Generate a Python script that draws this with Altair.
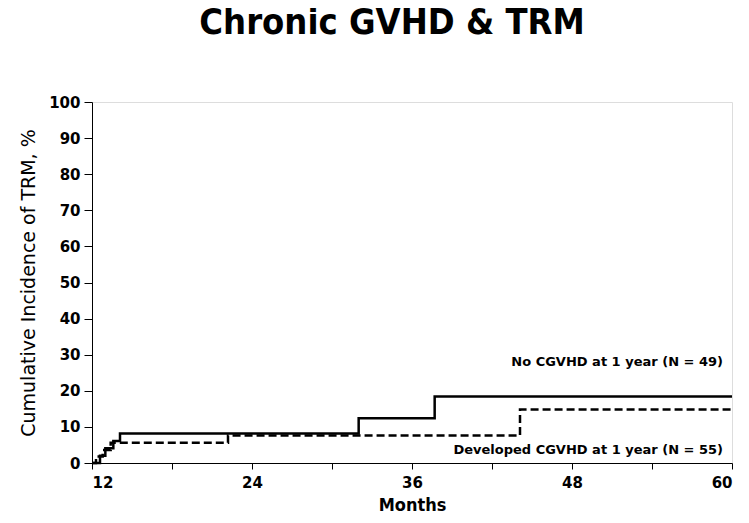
import altair as alt
import pandas as pd

# Step data (months, cumulative incidence %)
no_cgvhd_months = [12.0, 12.6, 13.0, 13.6, 14.1, 32.0, 37.7, 60.0]
no_cgvhd_values = [0.0, 2.0, 4.1, 6.1, 8.2, 12.4, 18.4, 18.4]
dev_cgvhd_months = [12.0, 12.3, 12.8, 13.4, 22.2, 44.1, 60.0]
dev_cgvhd_values = [0.0, 1.8, 3.6, 5.6, 7.6, 14.8, 14.8]

label_no = "No CGVHD at 1 year (N = 49)"
label_dev = "Developed CGVHD at 1 year (N = 55)"

x_ticks = [12, 18, 24, 30, 36, 42, 48, 54, 60]
y_ticks = [0, 10, 20, 30, 40, 50, 60, 70, 80, 90, 100]

FONT = "DejaVu Sans"
FONT_C = "DejaVu Sans Condensed"

df_no = pd.DataFrame({"month": no_cgvhd_months, "value": no_cgvhd_values, "group": label_no})
df_dev = pd.DataFrame({"month": dev_cgvhd_months, "value": dev_cgvhd_values, "group": label_dev})

x_enc = alt.X(
    "month:Q",
    scale=alt.Scale(domain=[12, 60], nice=False, zero=False),
    axis=alt.Axis(
        values=x_ticks,
        labelExpr="datum.value % 12 == 0 ? datum.label : ''",
        title="Months",
        grid=False,
        domainColor="black",
        tickColor="black",
        tickSize=6,
        labelFont=FONT,
        labelFontSize=15,
        labelFontWeight="bold",
        labelColor="black",
        labelPadding=6,
        titleFont=FONT_C,
        titleFontSize=18,
        titleFontWeight="bold",
        titleColor="black",
        titlePadding=6,
    ),
)
y_enc = alt.Y(
    "value:Q",
    scale=alt.Scale(domain=[0, 100], nice=False),
    axis=alt.Axis(
        values=y_ticks,
        title="Cumulative Incidence of TRM, %",
        grid=False,
        domainColor="black",
        tickColor="black",
        tickSize=8,
        labelFont=FONT,
        labelFontSize=15,
        labelFontWeight="bold",
        labelColor="black",
        labelPadding=4,
        titleFont=FONT,
        titleFontSize=19,
        titleFontWeight="normal",
        titleColor="black",
        titlePadding=10,
    ),
)

line_no = alt.Chart(df_no).mark_line(
    interpolate="step-after", color="black", strokeWidth=2.5
).encode(x=x_enc, y=y_enc)

line_dev = alt.Chart(df_dev).mark_line(
    interpolate="step-after", color="black", strokeWidth=2.5, strokeDash=[8, 4]
).encode(x=x_enc, y=y_enc)

lab_no = alt.Chart(df_no.tail(1)).mark_text(
    align="right", baseline="middle", dx=-9, dy=-35,
    font=FONT, fontSize=13, fontWeight="bold", color="black"
).encode(x=x_enc, y=y_enc, text="group:N")

lab_dev = alt.Chart(df_dev.tail(1)).mark_text(
    align="right", baseline="middle", dx=-9, dy=40,
    font=FONT, fontSize=13, fontWeight="bold", color="black"
).encode(x=x_enc, y=y_enc, text="group:N")

chart = (
    alt.layer(line_no, line_dev, lab_no, lab_dev)
    .properties(
        width=640,
        height=361,
        autosize=alt.AutoSizeParams(type="none"),
        padding={"left": 84, "top": 94, "right": 5, "bottom": 51},
        title=alt.TitleParams(
            "Chronic GVHD & TRM",
            font=FONT_C,
            fontSize=36,
            fontWeight="bold",
            color="black",
            anchor="middle",
            dx=-20,
            offset=53,
        ),
    )
    .configure_view(stroke="black", strokeWidth=1.5)
    .configure(background="white")
)

chart.save("out.html", embed_options={"renderer": "svg", "actions": False})
